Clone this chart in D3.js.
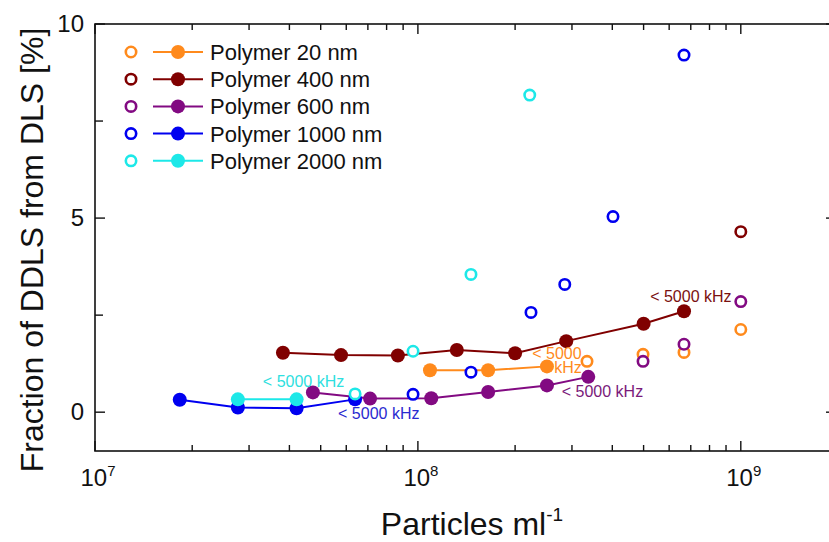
<!DOCTYPE html>
<html><head><meta charset="utf-8">
<script src="https://cdn.jsdelivr.net/npm/d3@7"></script>
<style>body{margin:0;background:#fff}svg{display:block}text{font-family:"Liberation Sans",Arial,sans-serif}</style>
</head><body><svg id="c" width="829" height="542"></svg>
<script>
// ---- data ----
const seriesNames = ["Polymer 20 nm","Polymer 400 nm","Polymer 600 nm","Polymer 1000 nm","Polymer 2000 nm"];
const seriesColors = ["#ff8a1c","#800000","#820a82","#0000f0","#1de8e8"];
// filled (connected) points
const filledX20 = [1.09e8,1.65e8,2.51e8];
const filledY20 = [1.08,1.08,1.18];
const filledX400 = [3.82e7,5.78e7,8.67e7,1.32e8,2.0e8,2.88e8,5.0e8,6.67e8];
const filledY400 = [1.53,1.47,1.46,1.60,1.52,1.83,2.28,2.60];
const filledX600 = [4.73e7,7.11e7,1.10e8,1.65e8,2.51e8,3.37e8];
const filledY600 = [0.51,0.35,0.36,0.52,0.69,0.91];
const filledX1000 = [1.83e7,2.77e7,4.21e7,6.39e7];
const filledY1000 = [0.32,0.12,0.10,0.33];
const filledX2000 = [2.77e7,4.21e7];
const filledY2000 = [0.33,0.33];
// open points
const openX20 = [3.34e8,4.98e8,6.67e8,1.0e9];
const openY20 = [1.31,1.49,1.54,2.13];
const openX400 = [1.0e9];
const openY400 = [4.65];
const openX600 = [4.98e8,6.67e8,1.0e9];
const openY600 = [1.31,1.75,2.85];
const openX1000 = [9.66e7,1.46e8,2.24e8,2.85e8,4.02e8,6.67e8];
const openY1000 = [0.46,1.03,2.57,3.29,5.04,9.20];
const openX2000 = [6.39e7,9.66e7,1.46e8,2.22e8];
const openY2000 = [0.47,1.57,3.55,8.17];
// axis ticks
const xMajorExp = [7,8,9];
const yMajorTicks = [0,5,10];
const yMinorTicks = [2.5,7.5];
const annoText = "< 5000 kHz";

const filledX=[filledX20,filledX400,filledX600,filledX1000,filledX2000];
const filledY=[filledY20,filledY400,filledY600,filledY1000,filledY2000];
const openX=[openX20,openX400,openX600,openX1000,openX2000];
const openY=[openY20,openY400,openY600,openY1000,openY2000];

const svg=d3.select("#c");
const L=95,R=838,T=24,B=451;
const x=d3.scaleLog().domain([1e7,2e9]).range([L,R]);
const y=d3.scaleLinear().domain([-1,10]).range([B,T]);

// frame
svg.append("rect").attr("x",L).attr("y",T).attr("width",R-L).attr("height",B-T)
  .attr("fill","none").attr("stroke","#111").attr("stroke-width",1.6);

// x ticks (inward), bottom and top
const xMinor=[];
for(let e=7;e<=9;e++){for(let m=2;m<=9;m++){const v=m*Math.pow(10,e); if(v<=2e9) xMinor.push(v);}}
const xMajor=xMajorExp.map(e=>Math.pow(10,e));
const tk=svg.append("g").attr("stroke","#111").attr("stroke-width",1.4);
xMajor.forEach(v=>{
  tk.append("line").attr("x1",x(v)).attr("x2",x(v)).attr("y1",B).attr("y2",B-10);
  tk.append("line").attr("x1",x(v)).attr("x2",x(v)).attr("y1",T).attr("y2",T+10);
});
xMinor.forEach(v=>{
  tk.append("line").attr("x1",x(v)).attr("x2",x(v)).attr("y1",B).attr("y2",B-6);
  tk.append("line").attr("x1",x(v)).attr("x2",x(v)).attr("y1",T).attr("y2",T+6);
});
yMajorTicks.forEach(v=>{
  tk.append("line").attr("x1",L).attr("x2",L+10).attr("y1",y(v)).attr("y2",y(v));
  tk.append("line").attr("x1",R).attr("x2",R-12).attr("y1",y(v)).attr("y2",y(v));
});
yMinorTicks.forEach(v=>{
  tk.append("line").attr("x1",L).attr("x2",L+8).attr("y1",y(v)).attr("y2",y(v));
  tk.append("line").attr("x1",R).attr("x2",R-6).attr("y1",y(v)).attr("y2",y(v));
});

// tick labels
yMajorTicks.forEach(v=>{
  svg.append("text").attr("x",L-11).attr("y",y(v)+8).attr("text-anchor","end")
    .attr("font-size",24).attr("fill","#111").text(v);
});
xMajorExp.forEach(e=>{
  const t=svg.append("text").attr("x",x(Math.pow(10,e))+3).attr("y",486).attr("text-anchor","middle")
    .attr("font-size",24).attr("fill","#111");
  t.append("tspan").text("10");
  t.append("tspan").attr("font-size",15).attr("dy",-10).text(e);
});

// axis titles
svg.append("text").attr("transform","translate(43,250) rotate(-90)").attr("text-anchor","middle")
  .attr("font-size",32).attr("fill","#111").text("Fraction of DDLS from DLS [%]");
const xt=svg.append("text").attr("x",472).attr("y",535).attr("text-anchor","middle")
  .attr("font-size",32).attr("fill","#111");
xt.append("tspan").text("Particles ml");
xt.append("tspan").attr("font-size",19).attr("dy",-14).text("-1");

// series
const line=d3.line().x(d=>x(d[0])).y(d=>y(d[1]));
seriesNames.forEach((n,i)=>{
  const g=svg.append("g");
  const pts=filledX[i].map((v,j)=>[v,filledY[i][j]]);
  g.append("path").attr("d",line(pts)).attr("fill","none").attr("stroke",seriesColors[i]).attr("stroke-width",2);
  g.selectAll("circle.f").data(pts).join("circle").attr("cx",d=>x(d[0])).attr("cy",d=>y(d[1]))
    .attr("r",7).attr("fill",seriesColors[i]);
});
seriesNames.forEach((n,i)=>{
  const pts=openX[i].map((v,j)=>[v,openY[i][j]]);
  svg.append("g").selectAll("circle").data(pts).join("circle").attr("cx",d=>x(d[0])).attr("cy",d=>y(d[1]))
    .attr("r",5.2).attr("fill","#fff").attr("stroke",seriesColors[i]).attr("stroke-width",2.6);
});

// annotations
const an=svg.append("g").attr("font-size",16);
an.append("text").attr("x",x(5.24e8)).attr("y",y(2.83)).attr("fill","#7a1010").text(annoText);
an.append("text").attr("x",x(2.26e8)).attr("y",y(1.36)).attr("fill","#ff8a1c").text("< 5000");
an.append("text").attr("x",x(3.22e8)).attr("y",y(1.02)).attr("text-anchor","end").attr("fill","#ff8a1c").text("kHz");
an.append("text").attr("x",x(2.79e8)).attr("y",y(0.39)).attr("fill","#7a1a7a").text(annoText);
an.append("text").attr("x",x(5.66e7)).attr("y",y(-0.18)).attr("fill","#2a2ad0").text(annoText);
an.append("text").attr("x",x(3.31e7)).attr("y",y(0.64)).attr("fill","#2ee0e0").text(annoText);

// legend
const lg=svg.append("g");
seriesNames.forEach((n,i)=>{
  const cy=52+i*27.2;
  lg.append("circle").attr("cx",131).attr("cy",cy).attr("r",5.2).attr("fill","#fff")
    .attr("stroke",seriesColors[i]).attr("stroke-width",2.6);
  lg.append("line").attr("x1",153).attr("x2",203).attr("y1",cy).attr("y2",cy)
    .attr("stroke",seriesColors[i]).attr("stroke-width",2);
  lg.append("circle").attr("cx",178).attr("cy",cy).attr("r",7).attr("fill",seriesColors[i]);
  lg.append("text").attr("x",210).attr("y",cy+8).attr("font-size",22).attr("fill","#111").text(n);
});
</script></body></html>
